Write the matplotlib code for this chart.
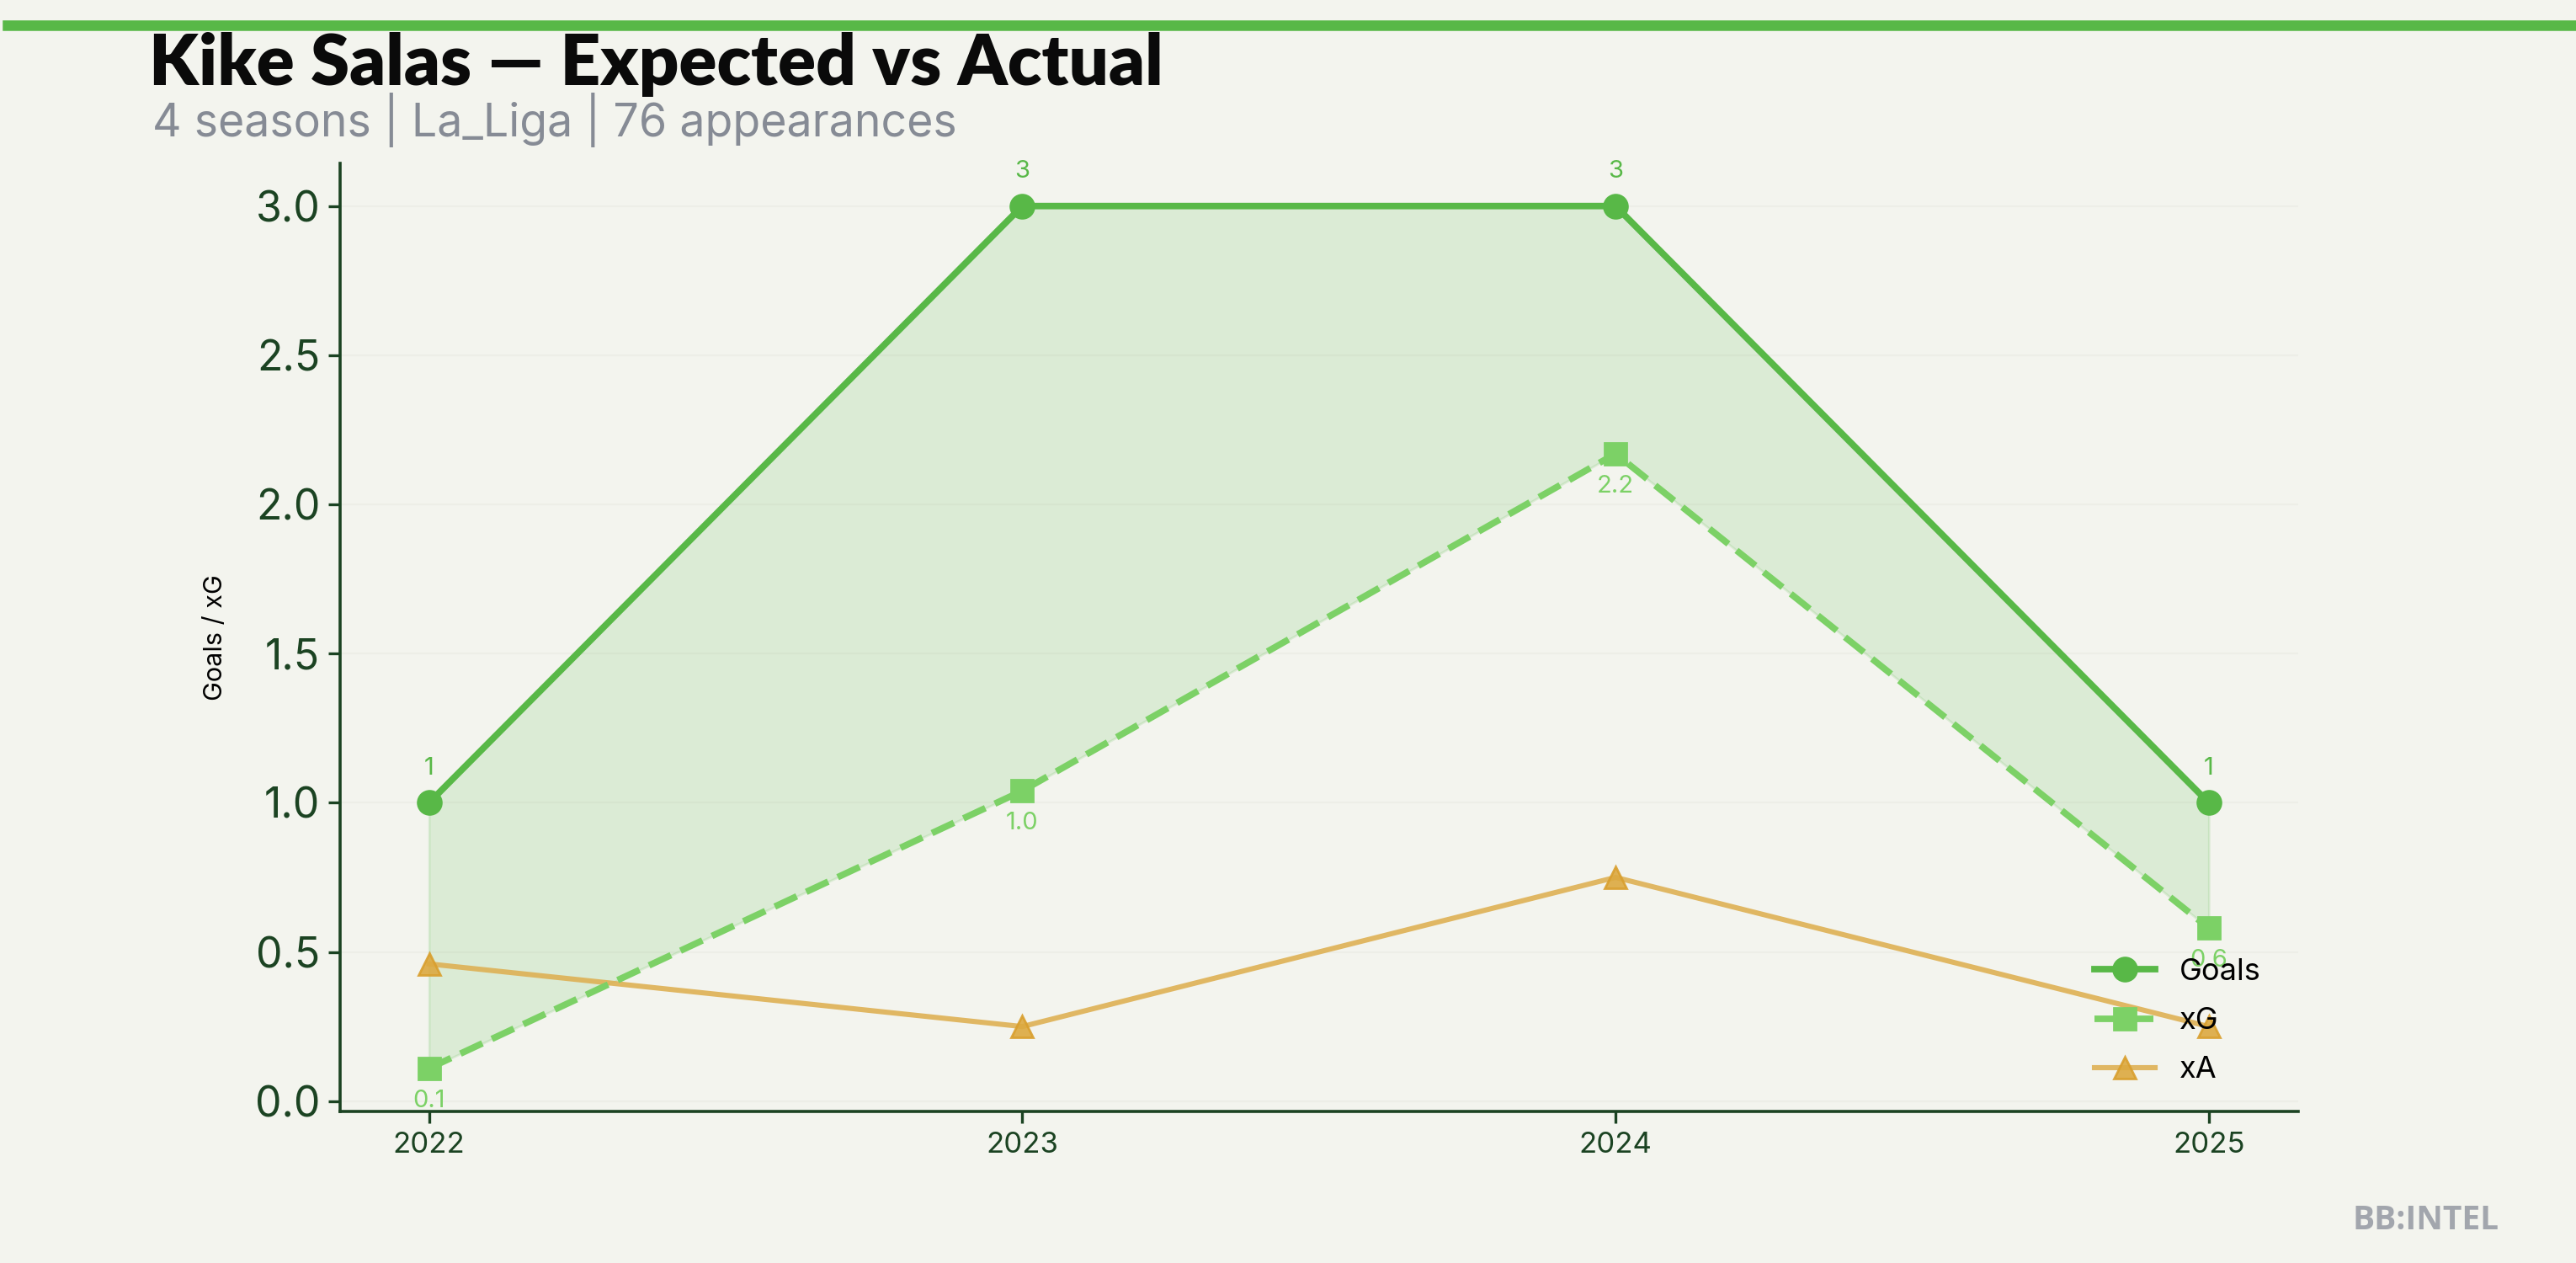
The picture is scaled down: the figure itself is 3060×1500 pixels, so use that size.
import matplotlib
matplotlib.use("Agg")
import matplotlib.pyplot as plt

seasons = [2022, 2023, 2024, 2025]
goals = [1, 3, 3, 1]
xg = [0.11, 1.04, 2.17, 0.58]
xa = [0.46, 0.25, 0.75, 0.25]

title = "Kike Salas \u2014 Expected vs Actual"
subtitle = "4 seasons | La_Liga | 76 appearances"

BG = "#f3f4ee"
GREEN = "#58b847"
LGREEN = "#7cd166"
GOLD = "#deb154"
DARK = "#1b4322"

plt.rcParams['font.family'] = ['Inter', 'DejaVu Sans']

fig = plt.figure(figsize=(15.3, 7.5), dpi=200, facecolor=BG)
ax = fig.add_axes([0.132, 0.12, 0.760, 0.751])
ax.set_facecolor(BG)

ax.fill_between(seasons, goals, xg, color=GREEN, alpha=0.15, zorder=1)
ax.plot(seasons, goals, color=GREEN, lw=2.8, marker='o', ms=10, label='Goals', zorder=3)
ax.plot(seasons, xg, color=LGREEN, lw=2.8, ls='--', marker='s', ms=9.5, label='xG', zorder=3)
ax.plot(seasons, xa, color=GOLD, lw=2.2, marker='^', ms=9.5, mfc="#dca940",
        mec="#d99f2e", alpha=0.9, label='xA', zorder=2)

for x, g in zip(seasons, goals):
    ax.annotate(f"{g}", (x, g), xytext=(0, 10), textcoords='offset points',
                ha='center', va='bottom', color=GREEN, fontsize=10.5)
for x, v in zip(seasons, xg):
    ax.annotate(f"{v:.1f}", (x, v), xytext=(0, -9), textcoords='offset points',
                ha='center', va='top', color=LGREEN, fontsize=10.5)

ax.set_xticks(seasons)
ax.set_xticklabels([str(s) for s in seasons])
ax.tick_params(axis='x', labelsize=12.5, colors=DARK, length=5, width=1.2)
ax.tick_params(axis='y', labelsize=18, colors=DARK, length=5, width=1.2)
ax.set_ylabel("Goals / xG", fontsize=11, color='black', labelpad=12)
for s in ['top', 'right']:
    ax.spines[s].set_visible(False)
for s in ['left', 'bottom']:
    ax.spines[s].set_color(DARK)
    ax.spines[s].set_linewidth(1.3)
ax.grid(axis='y', color='#edeee7', lw=0.8)
ax.set_axisbelow(True)

leg = ax.legend(loc='lower right', frameon=False, fontsize=13, handlelength=2.0,
                labelspacing=0.7, bbox_to_anchor=(0.995, 0.0))

fig.add_artist(plt.Line2D([0.003, 1.0], [0.980, 0.980], color=GREEN, lw=4.5,
                          transform=fig.transFigure))
fig.text(0.058, 0.949, title, fontsize=30, fontweight='heavy', family=['Lato', 'DejaVu Sans'],
         color='#0a0a0a', ha='left', va='center')
fig.text(0.059, 0.905, subtitle, fontsize=19.3, color='#868b95', ha='left', va='center')
fig.text(0.970, 0.034, "BB:INTEL", fontsize=14, fontweight='bold',
         family=['Open Sans', 'DejaVu Sans'], color='#a2a6ad', ha='right', va='center')

fig.savefig("out.png", dpi=200, facecolor=BG)
